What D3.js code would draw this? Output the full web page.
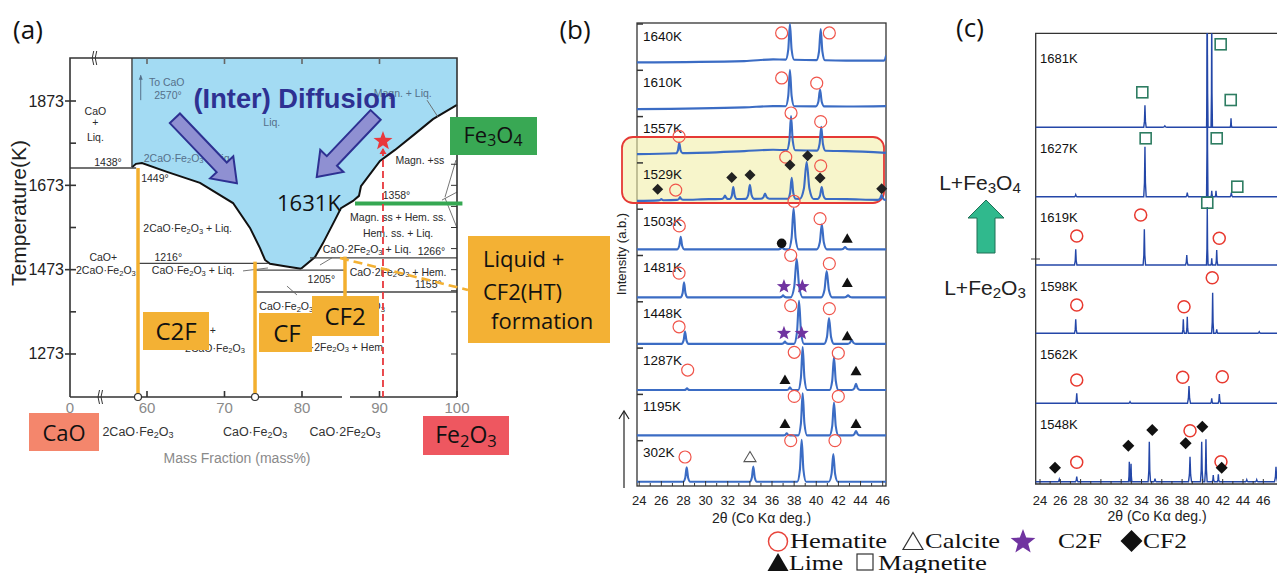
<!DOCTYPE html>
<html>
<head>
<meta charset="utf-8">
<script src="https://cdn.jsdelivr.net/npm/d3@7"></script>
<style>
  body { margin: 0; background: #fff; }
  svg { display: block; font-family: Arial, "Liberation Sans", sans-serif; }
</style>
</head>
<body>
<div id="chart"></div>
<script>
// ---------- (a) CaO-Fe2O3 phase diagram: [mass% Fe2O3, K]
const aTicksK = [1873, 1673, 1473, 1273];
const aMinorK = [1773, 1573, 1373];
const aRightK = [1723, 1673, 1623, 1573, 1523, 1473, 1423, 1373, 1273];
const aTicksMass = [60, 70, 80, 90, 100];
const aTickLabels = ["0", "60", "70", "80", "90", "100"];
const liquidLeft = [[58.06,1975],[58.06,1716],[58.58,1724],[59.35,1726],[62.58,1705],[66.84,1679],[71.10,1631],
  [73.29,1572],[74.58,1524],[75.23,1496],[75.87,1487],[77.81,1481],[79.87,1475]];
const liquidRight = [[79.87,1475],[81.68,1503],[82.71,1536],[84.26,1591],[85.03,1619],[86.58,1636],[87.35,1648],
  [87.61,1671],[88.39,1690],[90.06,1731],[92.0,1757],[94.58,1795],[96.9,1830],[100,1864]];
// isotherms: [from mass, to mass, K]
const isotherms = [[0,58.6,1714],[58.84,75.6,1488],[73.94,85.55,1472],[81.03,100,1501],[73.94,100,1420]];
const compounds = [["C2F",58.84,1714,1171],["CF",73.94,1492,1171],["CF2",85.55,1504,1405]];
const compoundNames = [["2CaO·Fe2O3",58.84],["CaO·Fe2O3",73.94],["CaO·2Fe2O3",85.55]];
const leaderLines = [[96.13,1875,97.55,1835],[72.39,1470,75.61,1477],[78.06,1434,79.35,1413],[82.32,1484,83.87,1501],
  [99.87,1733,98.45,1645],[98.06,1638,100,1657],[98.45,1643,100,1572]];
const magnLine = [86.84, 100.7, 1630];
const sampleMass = 90.45, sampleStarK = 1778;
const diffArrows = [[[63.6,1832],[71.6,1678]], [[89.5,1840],[81.9,1693]]];
// [text, mass, K, style]  b = inside liquid
const phaseLabels = [
  ["CaO",45,1850,"d"],["+",45,1823,"d"],["Liq.",45,1788,"d"],["1438°",54.97,1729,"d"],
  ["To CaO",62.54,1919,"b"],["2570°",62.7,1887,"b"],["Liq.",76.1,1824,"b"],["Magn. + Liq.",93.0,1892,"b"],
  ["2CaO·Fe2O3 + Liq.",65.3,1739,"b"],["1449°",61.03,1690,"d"],["2CaO·Fe2O3 + Liq.",65.25,1571,"d"],
  ["CaO+",54.36,1502,"d"],["2CaO·Fe2O3",54.7,1472,"d"],["1216°",62.75,1502,"d"],["CaO·Fe2O3 + Liq.",65.97,1472,"d"],
  ["Magn. +ss",95.2,1733,"d"],["1358°",92.2,1650,"d"],["Magn. ss + Hem. ss.",92.4,1597,"d"],["Hem. ss. + Liq.",92.4,1561,"d"],
  ["CaO·2Fe2O3 + Liq.",88.4,1521,"d"],["1266°",96.7,1517,"d"],["CaO·2Fe2O3 + Hem.",92.4,1468,"d"],
  ["1205°",82.5,1450,"d"],["1155°",96.3,1438,"d"],["+",68.48,1330,"d"],["2CaO·Fe2O3",68.77,1288,"d"],
  ["CaO·Fe2O3 + CaO·2Fe2O3",82.6,1387,"d"],["CaO·2Fe2O3 + Hem",84.4,1290,"d"]
];

// ---------- (b) XRD on heating: 2theta vs intensity (0-100 per strip)
const bTemps = ["1640K","1610K","1557K","1529K","1503K","1481K","1448K","1287K","1195K","302K"];
const bTicks = [24,26,28,30,32,34,36,38,40,42,44,46];
const bBaselines = [
  [[23.8,9],[33.5,12],[36.1,16],[42.7,13],[46.3,13]],
  [[23.8,8],[33.5,12],[36.1,15],[42.7,14],[46.3,15]],
  [[23.8,11],[27.4,13],[33.5,18],[36.1,21],[42.7,18],[46.3,14]],
  [[23.8,10],[30.3,14],[36.5,15],[42.7,14],[46.3,12]],
  [[23.8,5],[46.3,5]],
  [[23.8,1],[46.3,1]],
  [[23.8,0.5],[46.3,0.5]],
  [[23.8,1],[46.3,1]],
  [[23.8,3],[46.3,3]],
  [[23.8,3],[46.3,3]]
];
// peaks: [2theta, top intensity, half base width]
const bPeaks = [
  [[37.62,98,0.38],[40.40,86,0.38],[46.3,24,0.2]],
  [[37.62,99,0.38],[40.34,53,0.38]],
  [[27.62,37,0.3],[37.72,99,0.38],[40.45,74,0.38]],
  [[26.0,14,0.27],[27.69,19,0.27],[31.75,22,0.32],[32.5,42,0.32],[34.0,47,0.38],[35.37,27,0.38],[37.78,63,0.36],[39.13,100,0.62],[40.49,42,0.38],[45.9,24,0.32]],
  [[27.75,34,0.32],[36.9,10,0.32],[37.95,100,0.45],[40.5,63,0.45],[42.6,10,0.38]],
  [[28.05,36,0.32],[37.0,6,0.3],[38.23,90,0.55],[40.94,62,0.5],[42.87,6,0.38]],
  [[28.14,29,0.32],[37.17,6,0.3],[38.44,100,0.45],[41.15,60,0.45],[43.2,9.5,0.38]],
  [[28.32,5,0.25],[37.62,7,0.3],[38.77,100,0.4],[41.6,77,0.4],[43.59,15,0.38]],
  [[37.33,8,0.3],[38.77,100,0.4],[41.6,79,0.4],[43.59,13,0.38]],
  [[28.29,36,0.32],[34.31,38,0.32],[38.68,100,0.4],[41.54,67,0.4]]
];
const bHematite = [["1640K",36.87,77],["1640K",41.18,77],["1610K",36.87,80],["1610K",40.04,68],["1557K",37.72,106],["1557K",40.40,86],
  ["1557K",27.60,52],["1529K",37.24,111],["1529K",40.40,91],["1529K",27.30,35],["1503K",37.99,116],["1503K",40.34,76],["1503K",27.62,59],
  ["1481K",37.69,98],["1481K",41.18,79],["1481K",27.60,57],["1448K",37.69,89],["1448K",41.18,82],["1448K",27.60,40],["1287K",38.01,88],
  ["1287K",41.99,86],["1287K",28.38,47],["1195K",38.01,93],["1195K",41.99,93],["302K",37.69,98],["302K",41.69,98],["302K",28.14,60]];
const bCF2 = [["1529K",25.67,37],["1529K",32.36,64],["1529K",34.01,70],["1529K",37.62,93],["1529K",39.22,114],["1529K",40.34,63],["1529K",45.91,38]];
const bLime = [["1503K",42.80,31],["1481K",42.80,36],["1448K",42.80,20],["1287K",37.17,26],["1287K",43.59,46],["1195K",37.17,31],["1195K",43.59,31]];
const bC2F = [["1481K",37.08,26],["1481K",38.74,26],["1448K",37.08,25],["1448K",38.68,25]];
const bCalcite = [["302K",34.01,61]];
const bUnknown = [["1503K",36.87,19]];

// ---------- (c) XRD on heating (second run): offsets stack the strips
const cTemps = ["1681K","1627K","1619K","1598K","1562K","1548K"];
const cOffsets = [354.7, 285.3, 217, 148.7, 78.7, 0.3];
const cTicks = [24,26,28,30,32,34,36,38,40,42,44,46];
const cPeaks = [
  [[34.34,22,0.12],[36.3,1.5,0.2],[40.48,120,0.07],[40.92,120,0.07],[42.82,9,0.08]],
  [[27.52,2,0.12],[34.34,50,0.12],[38.51,4,0.12],[40.48,170,0.07],[40.92,6,0.08],[41.34,6,0.08],[42.85,4,0.12]],
  [[27.52,15.7,0.12],[34.28,35.7,0.12],[38.46,10,0.12],[40.48,58,0.08],[40.92,6.7,0.08],[41.41,15,0.1]],
  [[27.52,14,0.12],[38.12,14,0.1],[38.51,16.6,0.1],[41.01,40.6,0.1],[41.41,4,0.1],[45.6,1.5,0.15]],
  [[27.62,10,0.12],[32.87,1.6,0.15],[38.68,17.3,0.15],[40.92,5,0.1],[41.67,9.3,0.12]],
  [[25.9,2.4,0.12],[27.62,5,0.12],[32.8,20,0.08],[32.97,18,0.08],[34.77,40,0.12],[35.33,3,0.12],[38.78,25,0.15],
   [39.93,40,0.12],[40.35,42.4,0.12],[41.07,6.7,0.1],[41.57,7.4,0.1],[44.37,2,0.12],[45.35,2,0.12],[47.25,15,0.15]]
];
const cMagnetite = [["1681K",41.80,83],["1681K",34.08,35],["1681K",42.79,27.3],["1627K",34.41,58.4],["1627K",41.41,58.4],["1627K",43.44,10],["1619K",40.48,62.3]];
const cHematite = [["1619K",27.62,29],["1619K",33.92,50],["1619K",41.66,26.7],["1598K",40.97,55.6],["1598K",27.62,28.3],["1598K",38.19,26.6],
  ["1562K",27.62,23.3],["1562K",38.06,26],["1562K",41.96,26.6],["1548K",27.62,19.4],["1548K",38.78,51],["1548K",41.83,20]];
const cCF2 = [["1548K",25.48,14],["1548K",32.7,36],["1548K",35.06,51.7],["1548K",38.35,38.4],["1548K",39.99,55],["1548K",41.9,14]];

// ---------- helpers
const width = 1277, height = 573;
const svg = d3.select("#chart").append("svg").attr("width", width).attr("height", height);

function chem(sel, s, fs) {
  let shifted = false;
  s.split(/(?<=[A-Za-z])(\d)/).forEach((part, i) => {
    if (!part) return;
    const t = sel.append("tspan").text(part);
    if (i % 2) { t.attr("font-size", fs * 0.72).attr("dy", fs * 0.25); shifted = true; }
    else if (shifted) { t.attr("dy", -fs * 0.25); shifted = false; }
  });
}

function label(g, x, y, s, o = {}) {
  const fs = o.size || 11;
  const t = g.append("text").attr("x", x).attr("y", y)
    .attr("text-anchor", o.anchor || "middle")
    .attr("dominant-baseline", o.base || "central")
    .attr("font-size", fs)
    .attr("fill", o.fill || "#222");
  if (o.weight) t.attr("font-weight", o.weight);
  if (o.family) t.attr("font-family", o.family);
  if (o.len) t.attr("textLength", o.len).attr("lengthAdjust", "spacingAndGlyphs");
  if (o.chem) chem(t, s, fs); else t.text(s);
  return t;
}

function blockArrow(x1, y1, x2, y2, sw, hw, hl) {
  const L = Math.hypot(x2 - x1, y2 - y1), ux = (x2 - x1) / L, uy = (y2 - y1) / L, nx = -uy, ny = ux;
  const bx = x2 - ux * hl, by = y2 - uy * hl;
  return [[x1 + nx * sw, y1 + ny * sw], [bx + nx * sw, by + ny * sw], [bx + nx * hw, by + ny * hw], [x2, y2],
          [bx - nx * hw, by - ny * hw], [bx - nx * sw, by - ny * sw], [x1 - nx * sw, y1 - ny * sw]];
}
const poly = pts => "M" + pts.map(p => p.join(",")).join("L") + "Z";

function starPts(cx, cy, R) {
  return d3.range(10).map(i => {
    const r = i % 2 ? R * 0.42 : R, a = -Math.PI / 2 + i * Math.PI / 5;
    return [cx + r * Math.cos(a), cy + r * Math.sin(a)];
  });
}
const diamondPts = (cx, cy, r) => [[cx, cy - r], [cx + r, cy], [cx, cy + r], [cx - r, cy]];
const triPts = (cx, cy, w, h) => [[cx, cy - h / 2], [cx + w / 2, cy + h / 2], [cx - w / 2, cy + h / 2]];

function tracePoints(base, peaks) {
  const bl = d3.scaleLinear().domain(base.map(d => d[0])).range(base.map(d => d[1]));
  const inPeak = t => peaks.some(([p, , w]) => t > p - w && t < p + w);
  const pts = base.filter(d => !inPeak(d[0])).map(d => [d[0], d[1]]);
  peaks.forEach(([p, h, w]) => {
    const b = bl(p), m = b + (h - b) * 0.28;
    pts.push([p - w, bl(p - w)], [p - w * 0.4, m], [p, h], [p + w * 0.4, m], [p + w, bl(p + w)]);
  });
  return pts.sort((a, b) => a[0] - b[0]);
}

// ================= panel (a)
const xA = d3.scaleLinear().domain([0, 54, 100]).range([70, 100.5, 457]);
const yA = d3.scaleLinear().domain([1171, 1975]).range([397, 58]);
const lineA = d3.line().x(d => xA(d[0])).y(d => yA(d[1]));
const ga = svg.append("g");

ga.append("path").attr("d", lineA(liquidLeft.concat(liquidRight.slice(1), [[100, 1975]])) + "Z").attr("fill", "#A3DBF3");

// phase labels first (under arrows and boxes)
phaseLabels.forEach(([s, m, k, st]) => {
  label(ga, xA(m), yA(k), s, { size: 10.5, chem: true, fill: st === "b" ? "#55708a" : "#2a2a2a" });
});
// "To CaO" arrow
ga.append("path").attr("d", `M${xA(59.19)},${yA(1875)}V${yA(1934)}`).attr("stroke", "#55708a").attr("stroke-width", 1);
ga.append("path").attr("d", poly(triPts(xA(59.19), yA(1934) + 2, 4, 5))).attr("fill", "#55708a");

// boundaries
ga.append("path").attr("d", lineA(liquidLeft.slice(1))).attr("fill", "none").attr("stroke", "#111").attr("stroke-width", 2);
ga.append("path").attr("d", lineA(liquidRight)).attr("fill", "none").attr("stroke", "#111").attr("stroke-width", 2);
ga.append("path").attr("d", lineA(liquidLeft.slice(0, 2))).attr("fill", "none").attr("stroke", "#333").attr("stroke-width", 1.3);
ga.selectAll(".iso").data(isotherms).join("line")
  .attr("x1", d => xA(d[0])).attr("x2", d => xA(d[1])).attr("y1", d => yA(d[2])).attr("y2", d => yA(d[2]))
  .attr("stroke", "#444").attr("stroke-width", 1.4);
ga.selectAll(".lead").data(leaderLines).join("line")
  .attr("x1", d => xA(d[0])).attr("y1", d => yA(d[1])).attr("x2", d => xA(d[2])).attr("y2", d => yA(d[3]))
  .attr("stroke", "#666").attr("stroke-width", 0.9);

// frame
const fr = ga.append("g").attr("stroke", "#333").attr("stroke-width", 1.6).attr("fill", "none");
fr.append("path").attr("d", `M${xA(0)},${yA(1171)}V${yA(1975)}H${xA(100)}V${yA(1171)}`);
fr.append("path").attr("d", `M${xA(0)},${yA(1171)}H${xA(85.16)}M${xA(86.19)},${yA(1171)}H${xA(100)}`);
fr.selectAll(".lt").data(aTicksK).join("line").attr("x1", xA(0) - 5).attr("x2", xA(0) + 6).attr("y1", d => yA(d)).attr("y2", d => yA(d));
fr.selectAll(".mt").data(aMinorK).join("line").attr("x1", xA(0)).attr("x2", xA(0) + 6).attr("y1", d => yA(d)).attr("y2", d => yA(d));
fr.selectAll(".rt").data(aRightK).join("line").attr("x1", xA(100) - 6).attr("x2", xA(100)).attr("y1", d => yA(d)).attr("y2", d => yA(d)).attr("stroke-width", 1);
fr.selectAll(".bt").data(aTicksMass).join("line").attr("x1", d => xA(d)).attr("x2", d => xA(d)).attr("y1", yA(1171)).attr("y2", yA(1171) - 6);
fr.selectAll(".tt").data(aTicksMass.slice(0, 4)).join("line").attr("x1", d => xA(d)).attr("x2", d => xA(d)).attr("y1", yA(1975)).attr("y2", yA(1975) + 6).attr("stroke", "#666");
// axis break marks
[[xA(42), yA(1975)], [xA(54) - 1, yA(1171)]].forEach(([x, y]) => {
  ga.append("path").attr("d", `M${x},${y - 7}q-3,7 0,14M${x + 3},${y - 7}q-3,7 0,14`)
    .attr("fill", "none").attr("stroke", "#333").attr("stroke-width", 1);
});

// green 1358 line, compounds, sample line
ga.append("line").attr("x1", xA(magnLine[0])).attr("x2", xA(magnLine[1])).attr("y1", yA(magnLine[2])).attr("y2", yA(magnLine[2]))
  .attr("stroke", "#35A852").attr("stroke-width", 4);
ga.selectAll(".cmp").data(compounds).join("line")
  .attr("x1", d => xA(d[1])).attr("x2", d => xA(d[1])).attr("y1", d => yA(d[2])).attr("y2", d => yA(d[3]))
  .attr("stroke", "#F3AF2E").attr("stroke-width", 3.5);
ga.selectAll(".cmpc").data(compounds.slice(0, 2)).join("circle")
  .attr("cx", d => xA(d[1])).attr("cy", yA(1171)).attr("r", 3.5).attr("fill", "#fff").attr("stroke", "#333").attr("stroke-width", 1.2);
ga.append("line").attr("x1", xA(sampleMass)).attr("x2", xA(sampleMass)).attr("y1", yA(sampleStarK) + 8).attr("y2", yA(1171))
  .attr("stroke", "#E8383D").attr("stroke-width", 1.8).attr("stroke-dasharray", "7,4");
ga.append("path").attr("d", poly(triPts(xA(sampleMass), yA(sampleStarK) + 10, 7, 6))).attr("fill", "#E8383D");
ga.append("path").attr("d", poly(starPts(xA(sampleMass), yA(sampleStarK), 10))).attr("fill", "#E8383D");

// diffusion arrows
diffArrows.forEach(([a, b]) => {
  ga.append("path").attr("d", poly(blockArrow(xA(a[0]), yA(a[1]), xA(b[0]), yA(b[1]), 7, 16, 22)))
    .attr("fill", "#8F90D2").attr("stroke", "#2E3192").attr("stroke-width", 2).attr("stroke-linejoin", "miter");
});
label(ga, 295, 99, "(Inter) Diffusion", { size: 27, weight: "bold", fill: "#2E3192", len: 203 });
label(ga, 309, 203, "1631K", { size: 21, fill: "#111", family: "'Open Sans', sans-serif", len: 64 });

// axes texts
label(ga, 18, 213, "Temperature(K)", { size: 21, fill: "#222" }).attr("transform", "rotate(-90,18,213)");
aTicksK.forEach(k => label(ga, 64, yA(k), String(k), { size: 16, anchor: "end", fill: "#222" }));
[0].concat(aTicksMass).forEach((m, i) => label(ga, xA(m), 407, aTickLabels[i], { size: 15, fill: "#8a8a8a" }));
compoundNames.forEach(([s, m]) => label(ga, xA(m), 432, s, { size: 12.5, chem: true, fill: "#333" }));
label(ga, 237, 458, "Mass Fraction (mass%)", { size: 14, fill: "#8a8a8a" });

// coloured boxes
function box(g, x, y, w, h, fill) { return g.append("rect").attr("x", x).attr("y", y).attr("width", w).attr("height", h).attr("fill", fill); }
const boxFont = "'Open Sans', 'Noto Sans', sans-serif";
box(ga, 29, 413, 70, 38, "#F4866C"); label(ga, 64, 432, "CaO", { size: 22, family: boxFont, fill: "#111" });
box(ga, 423, 416, 86, 39, "#EE5760"); label(ga, 466, 434, "Fe2O3", { size: 23, family: boxFont, fill: "#111", chem: true });
box(ga, 450, 117, 87, 38, "#39A854"); label(ga, 493, 134, "Fe3O4", { size: 22, family: boxFont, fill: "#111", chem: true });
box(ga, 143, 312, 66, 38, "#F3B134"); label(ga, 176, 330, "C2F", { size: 24, family: boxFont, fill: "#111" });
box(ga, 259, 313, 53, 39, "#F3B134"); label(ga, 287, 332, "CF", { size: 24, family: boxFont, fill: "#111" });
box(ga, 312, 296, 67, 40, "#F3B134"); label(ga, 345, 315, "CF2", { size: 24, family: boxFont, fill: "#111" });
ga.append("line").attr("x1", 340).attr("y1", 258).attr("x2", 468).attr("y2", 290)
  .attr("stroke", "#F3B134").attr("stroke-width", 2.6).attr("stroke-dasharray", "9,5");
box(ga, 468, 236, 142, 107, "#F3B134");
label(ga, 483, 258, "Liquid +", { size: 22, family: boxFont, anchor: "start", fill: "#111" });
label(ga, 483, 291, "CF2(HT)", { size: 22, family: boxFont, anchor: "start", fill: "#111" });
label(ga, 491, 320, "formation", { size: 22, family: boxFont, anchor: "start", fill: "#111" });
label(ga, 28, 29, "(a)", { size: 26, family: boxFont, fill: "#111" });

// ================= panel (b)
const xB = d3.scaleLinear().domain([23.8, 46.3]).range([637, 886]);
const band = d3.scaleBand().domain(bTemps).range([23, 486]);
const yI = d3.scaleLinear().domain([0, 100]).range([43.3, 0]);
const yB = (t, v) => band(t) + yI(v);
const gb = svg.append("g");
label(gb, 575, 29, "(b)", { size: 26, family: boxFont, fill: "#111" });

gb.append("rect").attr("x", 637).attr("y", 23).attr("width", 249).attr("height", 463).attr("fill", "none").attr("stroke", "#333").attr("stroke-width", 1.3);
gb.append("rect").attr("x", 622).attr("y", 137).attr("width", 262).attr("height", 66).attr("rx", 11)
  .attr("fill", "#F2EFA8").attr("fill-opacity", 0.6).attr("stroke", "#E53935").attr("stroke-width", 1.8);
gb.selectAll(".st").data(bTemps).join("line").attr("x1", 637).attr("x2", 643).attr("y1", d => band(d) + 1).attr("y2", d => band(d) + 1)
  .attr("stroke", "#333").attr("stroke-width", 1.5);

gb.append("clipPath").attr("id", "clipB").append("rect").attr("x", 637).attr("y", 0).attr("width", 249).attr("height", 486);
const lineB = t => d3.line().x(d => xB(d[0])).y(d => yB(t, d[1])).curve(d3.curveMonotoneX);
gb.append("g").attr("clip-path", "url(#clipB)").selectAll("path").data(bTemps).join("path")
  .attr("d", (t, i) => lineB(t)(tracePoints(bBaselines[i], bPeaks[i])))
  .attr("fill", "none").attr("stroke", "#3B6CC4").attr("stroke-width", 2.1);

bTemps.forEach(t => label(gb, 643, band(t) + 13, t, { size: 13.5, anchor: "start", fill: "#111" }));

// markers (b)
gb.selectAll(".hem").data(bHematite).join("circle").attr("cx", d => xB(d[1])).attr("cy", d => yB(d[0], d[2])).attr("r", 6)
  .attr("fill", "none").attr("stroke", "#F0554B").attr("stroke-width", 1.2);
gb.selectAll(".cf2").data(bCF2).join("path").attr("d", d => poly(diamondPts(xB(d[1]), yB(d[0], d[2]), 5.5))).attr("fill", "#222");
gb.selectAll(".lime").data(bLime).join("path").attr("d", d => poly(triPts(xB(d[1]), yB(d[0], d[2]), 11, 9.5))).attr("fill", "#111");
gb.selectAll(".c2f").data(bC2F).join("path").attr("d", d => poly(starPts(xB(d[1]), yB(d[0], d[2]), 7.5))).attr("fill", "#7034A0");
gb.selectAll(".cal").data(bCalcite).join("path").attr("d", d => poly(triPts(xB(d[1]), yB(d[0], d[2]), 12, 10)))
  .attr("fill", "none").attr("stroke", "#555").attr("stroke-width", 1.1);
gb.selectAll(".unk").data(bUnknown).join("circle").attr("cx", d => xB(d[1])).attr("cy", d => yB(d[0], d[2])).attr("r", 4.8).attr("fill", "#111");

// axis (b)
gb.selectAll(".bx").data(d3.range(24, 47)).join("line").attr("x1", d => xB(d)).attr("x2", d => xB(d))
  .attr("y1", 486).attr("y2", d => d % 2 ? 483 : 481).attr("stroke", "#333");
bTicks.forEach(v => label(gb, xB(v), 500, String(v), { size: 13, fill: "#222" }));
label(gb, xB(35.05), 518, "2θ (Co Kα deg.)", { size: 14, fill: "#222" });
label(gb, 621, 254, "Intensity (a.b.)", { size: 13, fill: "#222" }).attr("transform", "rotate(-90,621,254)");
gb.append("line").attr("x1", 624).attr("x2", 624).attr("y1", 488).attr("y2", 412).attr("stroke", "#222").attr("stroke-width", 1.2);
gb.append("path").attr("d", "M619,419L624,411L629,419").attr("fill", "none").attr("stroke", "#222").attr("stroke-width", 1.2);

// ================= panel (c)
const xC = d3.scaleLinear().domain([24, 44]).range([1040, 1243]);
const yC = d3.scaleLinear().domain([0, 450]).range([482, 32]);
const gc = svg.append("g");
label(gc, 970, 27, "(c)", { size: 26, family: boxFont, fill: "#111" });
gc.append("path").attr("d", "M1277,33.3H1035.7V484H1277").attr("fill", "none").attr("stroke", "#333").attr("stroke-width", 1.3);
gc.append("clipPath").attr("id", "clipC").append("rect").attr("x", 1035.7).attr("y", 33.3).attr("width", 241.3).attr("height", 451);
const lineC = off => d3.line().x(d => xC(d[0])).y(d => yC(off + d[1]));
gc.append("g").attr("clip-path", "url(#clipC)").selectAll("path").data(cTemps).join("path")
  .attr("d", (t, i) => lineC(cOffsets[i])(tracePoints([[23.5, 0], [47.5, 0]], cPeaks[i])))
  .attr("fill", "none").attr("stroke", "#2447A8").attr("stroke-width", 1.4);
cTemps.forEach((t, i) => label(gc, 1040, i ? yC(cOffsets[i - 1]) + 21 : 58, t, { size: 13, anchor: "start", fill: "#111" }));
const offC = t => cOffsets[cTemps.indexOf(t)];
gc.selectAll(".mag").data(cMagnetite).join("rect")
  .attr("x", d => xC(d[1]) - 5.5).attr("y", d => yC(offC(d[0]) + d[2]) - 5.5).attr("width", 11).attr("height", 11)
  .attr("fill", "none").attr("stroke", "#2E7D62").attr("stroke-width", 1.6);
gc.selectAll(".hem").data(cHematite).join("circle").attr("cx", d => xC(d[1])).attr("cy", d => yC(offC(d[0]) + d[2])).attr("r", 6)
  .attr("fill", "none").attr("stroke", "#E8392F").attr("stroke-width", 1.5);
gc.selectAll(".cf2").data(cCF2).join("path").attr("d", d => poly(diamondPts(xC(d[1]), yC(offC(d[0]) + d[2]), 6))).attr("fill", "#111");
gc.selectAll(".cx").data(d3.range(24, 47)).join("line").attr("x1", d => xC(d)).attr("x2", d => xC(d))
  .attr("y1", 484).attr("y2", d => d % 2 ? 481 : 479).attr("stroke", "#333");
cTicks.forEach(v => label(gc, xC(v), 500, String(v), { size: 13, fill: "#222" }));
label(gc, 1157, 516, "2θ (Co Kα deg.)", { size: 14, fill: "#222" });
gc.append("line").attr("x1", 1031).attr("x2", 1040).attr("y1", 259).attr("y2", 259).attr("stroke", "#333");

label(gc, 980, 182, "L+Fe3O4", { size: 21, chem: true, fill: "#222" });
label(gc, 985, 287, "L+Fe2O3", { size: 21, chem: true, fill: "#222" });
gc.append("path").attr("d", poly(blockArrow(986, 253, 986, 200, 9, 18, 18))).attr("fill", "#30B98D").attr("stroke", "#1F6F55").attr("stroke-width", 1);

// ================= legend
const gl = svg.append("g");
const serif = "'Liberation Serif', 'DejaVu Serif', serif";
gl.append("circle").attr("cx", 778).attr("cy", 541.5).attr("r", 9.5).attr("fill", "none").attr("stroke", "#E8453C").attr("stroke-width", 1.5);
label(gl, 790, 548, "Hematite", { size: 22, family: serif, anchor: "start", base: "auto", len: 97, fill: "#111" });
gl.append("path").attr("d", poly(triPts(913, 541, 20, 17))).attr("fill", "none").attr("stroke", "#333").attr("stroke-width", 1.2);
label(gl, 925, 548, "Calcite", { size: 22, family: serif, anchor: "start", base: "auto", len: 75, fill: "#111" });
gl.append("path").attr("d", poly(starPts(1023, 542, 13))).attr("fill", "#7034A0");
label(gl, 1058, 548, "C2F", { size: 22, family: serif, anchor: "start", base: "auto", len: 44, fill: "#111" });
gl.append("path").attr("d", poly(diamondPts(1131.5, 541, 11))).attr("fill", "#111");
label(gl, 1143, 548, "CF2", { size: 22, family: serif, anchor: "start", base: "auto", len: 44, fill: "#111" });
gl.append("path").attr("d", poly(triPts(778, 562, 21, 18))).attr("fill", "#111");
label(gl, 789, 570, "Lime", { size: 22, family: serif, anchor: "start", base: "auto", len: 54, fill: "#111" });
gl.append("rect").attr("x", 857).attr("y", 554).attr("width", 16).attr("height", 16).attr("fill", "none").attr("stroke", "#333").attr("stroke-width", 1.2);
label(gl, 878, 570, "Magnetite", { size: 22, family: serif, anchor: "start", base: "auto", len: 109, fill: "#111" });
</script>
</body>
</html>
